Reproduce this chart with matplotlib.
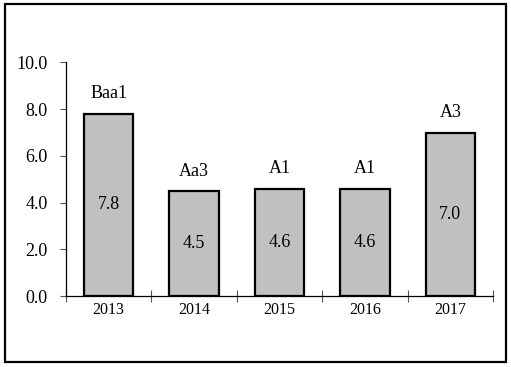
import matplotlib.pyplot as plt
import matplotlib.patches as patches
import numpy as np

# Chart data
years = ['2013', '2014', '2015', '2016', '2017']
values = [7.8, 4.5, 4.6, 4.6, 7.0]
ratings = ['Baa1', 'Aa3', 'A1', 'A1', 'A3']

plt.rcParams['font.family'] = ['Liberation Serif', 'DejaVu Serif']

fig = plt.figure(figsize=(5.11, 3.67), dpi=100)
ax = fig.add_axes([0.129, 0.193, 0.836, 0.637])

x = np.arange(len(years))
ax.bar(x, values, width=0.58, color='#c0c0c0', edgecolor='black', linewidth=1.6, zorder=2)

# values inside bars, ratings above
for xi, v, r in zip(x, values, ratings):
    ax.text(xi, v / 2, f'{v:.1f}', ha='center', va='center', fontsize=13)
    ax.text(xi, v + 0.85, r, ha='center', va='center', fontsize=13)

ax.set_xlim(-0.5, len(years) - 0.5)
ax.set_ylim(0, 10)
ax.set_yticks(np.arange(0, 10.1, 2))
ax.set_yticklabels([f'{t:.1f}' for t in np.arange(0, 10.1, 2)], fontsize=13)
ax.set_xticks(x)
ax.set_xticklabels(years, fontsize=11.5)
ax.set_xticks(np.arange(-0.5, len(years)), minor=True)

ax.tick_params(axis='x', which='major', length=0, pad=4)
ax.tick_params(axis='x', which='minor', length=8, direction='inout', width=0.8, color='#555555')
ax.tick_params(axis='y', length=4, width=0.8, pad=9, color='#555555')

for side in ['top', 'right']:
    ax.spines[side].set_visible(False)
ax.spines['left'].set_linewidth(0.9)
ax.spines['bottom'].set_linewidth(0.9)

# outer frame around the whole chart
frame = patches.Rectangle((5 / 511, 5 / 367), 501 / 511, 358 / 367, transform=fig.transFigure,
                          fill=False, edgecolor='black', linewidth=1.6)
fig.patches.append(frame)

fig.savefig('out.png', dpi=100)
